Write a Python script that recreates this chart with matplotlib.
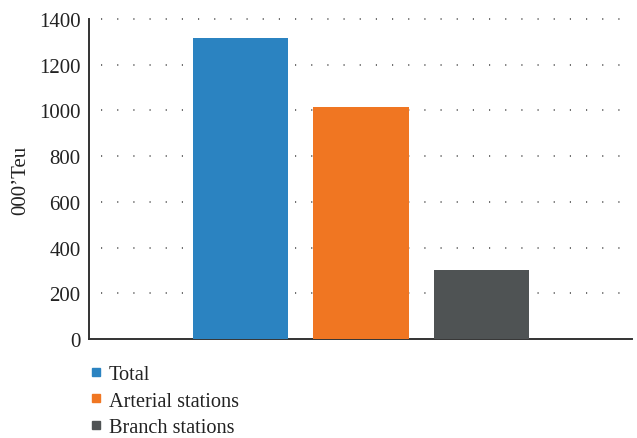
import matplotlib.pyplot as plt
from matplotlib.lines import Line2D

categories = ['Total', 'Arterial stations', 'Branch stations']
values = [1317, 1015, 302]
colors = ['#2b83c1', '#f07622', '#4f5354']
yticks = [0, 200, 400, 600, 800, 1000, 1200, 1400]

plt.rcParams['font.family'] = ['Liberation Serif', 'DejaVu Serif']

fig = plt.figure(figsize=(6.37, 4.39), dpi=100)
ax = fig.add_axes([0.1397, 0.2255, 0.8523, 0.729])

x = range(len(categories))
ax.bar(x, values, width=0.79, color=colors, zorder=3)

ax.set_xlim(-1.257, 3.249)
ax.set_ylim(0, 1400)
ax.set_yticks(yticks)
ax.set_xticks([])
ax.tick_params(axis='y', length=0, labelsize=15, pad=6, colors='#222222')

# dotted horizontal guides
for y in yticks[1:]:
    ax.plot([-1.16, 3.249], [y, y], ls=(0, (0.7, 9.0)), lw=1.2,
            color='#555555', zorder=1, clip_on=False)

for s in ['top', 'right']:
    ax.spines[s].set_visible(False)
for s in ['left', 'bottom']:
    ax.spines[s].set_color('#333333')
    ax.spines[s].set_linewidth(1.4)

ax.set_ylabel('000\u2019Teu', fontsize=15, labelpad=6, color='#222222')

handles = [Line2D([], [], marker='s', ls='none', markersize=6,
                  color=c) for c in colors]
fig.legend(handles, categories, loc='upper left',
           bbox_to_anchor=(0.126, 0.186), frameon=False, fontsize=14.6,
           handletextpad=0.2, labelspacing=0.38, handlelength=0.8,
           borderaxespad=0, labelcolor='#222222')

fig.savefig('out.png', dpi=100)
